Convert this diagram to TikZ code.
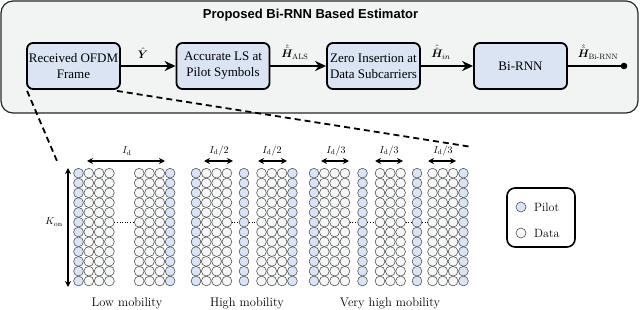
\documentclass[tikz,border=0pt]{standalone}
\usepackage{amsmath}
\usepackage{bm}
\usepackage{fontspec}
\newfontfamily\boxfont{Liberation Serif}
\newfontfamily\titlefont{Liberation Sans}
\usetikzlibrary{arrows.meta}
\definecolor{outerfill}{HTML}{F2F3F3}
\definecolor{blockfill}{HTML}{DAE4F2}
\definecolor{pilotfill}{HTML}{D9E5F6}
\definecolor{datafill}{HTML}{F6F7F7}
\definecolor{cstroke}{HTML}{555555}
\tikzset{
  outerbox/.style={draw=black!85, line width=1.2pt, rounded corners=12pt, fill=outerfill},
  blockbox/.style={draw=black, line width=1.8pt, rounded corners=6pt, fill=blockfill,
    minimum width=93pt, minimum height=46pt, inner sep=1pt, align=center,
    font=\boxfont\fontsize{13}{16}\selectfont},
  flow/.style={line width=1.8pt, -{Stealth[length=11pt,width=10pt]}},
  zoomline/.style={line width=1.8pt, dash pattern=on 6pt off 4pt},
  pilotc/.style={draw=cstroke, line width=0.6pt, fill=pilotfill},
  datac/.style={draw=cstroke, line width=0.6pt, fill=datafill},
  dimarrow/.style={line width=1.1pt, {Stealth[length=6pt,width=6pt]}-{Stealth[length=6pt,width=6pt]}},
  mlabel/.style={font=\fontsize{11}{13}\selectfont, inner sep=0pt},
  glabel/.style={font=\fontsize{10}{12}\selectfont, inner sep=0pt},
  caption/.style={font=\fontsize{12.5}{15}\selectfont, inner sep=0pt},
  legendbox/.style={draw=black, line width=1.6pt, rounded corners=8pt, fill=white}
}
\newcommand{\gridcol}[2]{%
  \foreach \r in {0,...,11} {\draw[#2] (#1, {173.2+9.8*\r}) circle[radius=4.9pt];}}
\begin{document}
\begin{tikzpicture}[x=1pt, y=-1pt]
\useasboundingbox (0,0) rectangle (640,310);

% outer box
\draw[outerbox] (1,1) rectangle (638,113);
\node[font=\titlefont\bfseries\fontsize{13}{15}\selectfont] (title) at (310.5,15) {Proposed Bi-RNN Based Estimator};

% blocks
\node[blockbox] (b1) at (73.5,66) {Received OFDM\\Frame};
\node[blockbox] (b2) at (223,66) {Accurate LS at\\Pilot Symbols};
\node[blockbox] (b3) at (373.5,66) {Zero Insertion at\\Data Subcarriers};
\node[blockbox] (b4) at (520.5,66) {Bi-RNN};
\coordinate (out) at (624,66);

\draw[flow] (b1) -- (b2);
\draw[flow] (b2) -- (b3);
\draw[flow] (b3) -- (b4);
\draw[line width=1.8pt] (b4) -- (out);
\fill (out) circle[radius=3.3pt];

\node[mlabel] (l1) at (143,53) {$\hat{\bm{Y}}$};
\node[mlabel] (l2) at (295,52) {$\hat{\hat{\bm{H}}}_{\mathrm{ALS}}$};
\node[mlabel] (l3) at (441,52) {$\hat{\hat{\bm{H}}}_{in}$};
\node[mlabel] (l4) at (598,52) {$\hat{\hat{\bm{H}}}_{\text{Bi-RNN}}$};

% zoom lines
\coordinate (z1) at (57,161);
\coordinate (z2) at (472,147);
\draw[zoomline] ([shift={(1pt,-1pt)}]b1.south west) -- (z1);
\draw[zoomline] ([shift={(-4pt,-1pt)}]b1.south east) -- (z2);

% ---- Low mobility
\gridcol{78.5}{pilotc}
\foreach \x in {88.8,99.1,109.4} {\gridcol{\x}{datac}}
\foreach \x in {139.2,149.5,159.8} {\gridcol{\x}{datac}}
\gridcol{170.1}{pilotc}
\draw[dotted, line width=0.6pt] (114.3,222.2) -- (134.3,222.2);

% ---- High mobility
\gridcol{196}{pilotc}
\foreach \x in {206.3,216.6,226.9} {\gridcol{\x}{datac}}
\gridcol{244}{pilotc}
\foreach \x in {261.5,271.8,282.1} {\gridcol{\x}{datac}}
\gridcol{292.4}{pilotc}
\draw[dotted, line width=0.6pt] (231.8,222.2) -- (239.1,222.2);
\draw[dotted, line width=0.6pt] (248.9,222.2) -- (256.6,222.2);

% ---- Very high mobility
\gridcol{314}{pilotc}
\foreach \x in {324.3,334.6,344.9} {\gridcol{\x}{datac}}
\gridcol{362.5}{pilotc}
\foreach \x in {380,390.3,400.6} {\gridcol{\x}{datac}}
\gridcol{417}{pilotc}
\foreach \x in {432.5,442.8,453.1} {\gridcol{\x}{datac}}
\gridcol{463.4}{pilotc}
\draw[dotted, line width=0.6pt] (349.8,222.2) -- (357.6,222.2);
\draw[dotted, line width=0.6pt] (367.4,222.2) -- (375.1,222.2);
\draw[dotted, line width=0.6pt] (405.5,222.2) -- (412.1,222.2);
\draw[dotted, line width=0.6pt] (421.9,222.2) -- (427.6,222.2);

% dimension arrows
\coordinate (ka) at (68,168);
\coordinate (kb) at (68,287);
\draw[dimarrow] (ka) -- (kb);
\node[glabel] (kon) at (54,222) {$K_{\mathrm{on}}$};

\coordinate (d1a) at (87,161); \coordinate (d1b) at (165,161);
\draw[dimarrow] (d1a) -- (d1b);
\node[glabel] (id) at (127,151) {$I_{\mathrm{d}}$};

\coordinate (d2a) at (204,161); \coordinate (d2b) at (233,161);
\draw[dimarrow] (d2a) -- (d2b);
\node[glabel] (id2a) at (219,151) {$I_{\mathrm{d}}/2$};
\coordinate (d3a) at (258,161); \coordinate (d3b) at (287,161);
\draw[dimarrow] (d3a) -- (d3b);
\node[glabel] (id2b) at (272,151) {$I_{\mathrm{d}}/2$};

\coordinate (d4a) at (321,161); \coordinate (d4b) at (349,161);
\draw[dimarrow] (d4a) -- (d4b);
\node[glabel] (id3a) at (336,151) {$I_{\mathrm{d}}/3$};
\coordinate (d5a) at (375,161); \coordinate (d5b) at (403,161);
\draw[dimarrow] (d5a) -- (d5b);
\node[glabel] (id3b) at (389,151) {$I_{\mathrm{d}}/3$};
\coordinate (d6a) at (428,161); \coordinate (d6b) at (456,161);
\draw[dimarrow] (d6a) -- (d6b);
\node[glabel] (id3c) at (443,151) {$I_{\mathrm{d}}/3$};

% captions
\node[caption] (c1) at (127,303) {Low mobility};
\node[caption] (c2) at (247,303) {High mobility};
\node[caption] (c3) at (390,303) {Very high mobility};

% legend
\draw[legendbox] (507,188) rectangle (575,247);
\draw[pilotc] (521,207) circle[radius=5pt];
\draw[datac] (521,233) circle[radius=5pt];
\node[caption, font=\fontsize{12}{14}\selectfont, anchor=west] (lp) at (534,207) {Pilot};
\node[caption, font=\fontsize{12}{14}\selectfont, anchor=west] (ld) at (534,233) {Data};
\end{tikzpicture}
\end{document}
